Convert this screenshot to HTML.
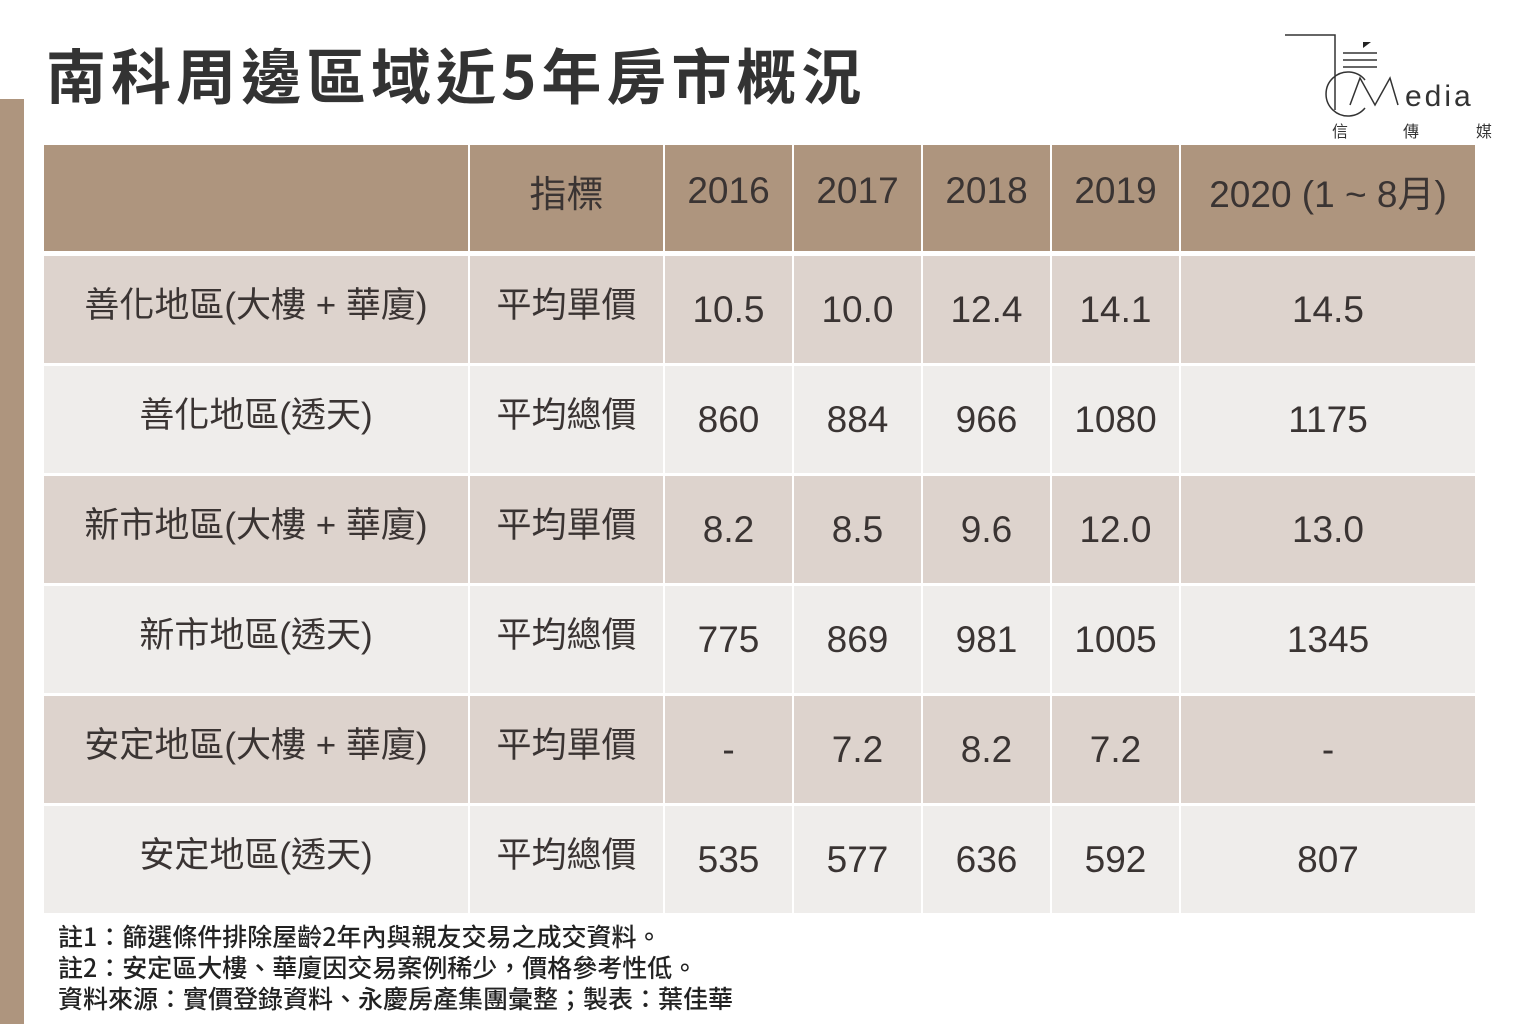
<!DOCTYPE html>
<html><head><meta charset="utf-8"><style>
body{margin:0;width:1536px;height:1024px;background:#fff;position:relative;overflow:hidden;font-family:"Liberation Sans","Noto Sans CJK TC",sans-serif;color:#3a3433}
.a{position:absolute}
.c{position:absolute;display:flex;align-items:center;justify-content:center;box-sizing:border-box}
.t{font-size:35px}
.n{font-size:37px}
</style></head><body>
<div class="a" style="left:0;top:99px;width:24px;height:925px;background:#ae957e"></div>
<div class="a" style="left:46px;top:30px;font-size:60px;font-weight:bold;color:#333;letter-spacing:5px;font-family:'Noto Sans CJK TC',sans-serif">南科周邊區域近5年房市概況</div>
<svg class="a" style="left:1280px;top:30px" width="215" height="115">
<path d="M5 5 H55 V80" fill="none" stroke="#333" stroke-width="1.5"/>
<path d="M63 23 H97 M63 30 H97 M63 37 H97" stroke="#333" stroke-width="1.5"/>
<path d="M83 12 l8 0 l-8 6z" fill="#222"/>
<path d="M85 50 A22 22 0 1 0 85 78" fill="none" stroke="#333" stroke-width="1.5"/>
<path d="M70 75 L80 48 L95 75 L110 48 L118 75" fill="none" stroke="#333" stroke-width="1.5"/>
<text x="125" y="76" font-size="30" fill="#333" font-family="Liberation Sans" letter-spacing="3">edia</text>
<text x="52" y="107" font-size="16" fill="#333" font-family="Noto Sans CJK TC">信</text>
<text x="123" y="107" font-size="16" fill="#333" font-family="Noto Sans CJK TC">傳</text>
<text x="196" y="107" font-size="16" fill="#333" font-family="Noto Sans CJK TC">媒</text>
</svg>
<div id="tb"></div>
<script>
var cols=[44,470,665,794,923,1052,1181,1477];
var h=["","指標","2016","2017","2018","2019","2020 (1 ~ 8月)"];
var rows=[["善化地區(大樓 + 華廈)","平均單價","10.5","10.0","12.4","14.1","14.5"],
["善化地區(透天)","平均總價","860","884","966","1080","1175"],
["新市地區(大樓 + 華廈)","平均單價","8.2","8.5","9.6","12.0","13.0"],
["新市地區(透天)","平均總價","775","869","981","1005","1345"],
["安定地區(大樓 + 華廈)","平均單價","-","7.2","8.2","7.2","-"],
["安定地區(透天)","平均總價","535","577","636","592","807"]];
var s="";
for(var i=0;i<7;i++){s+='<div class="c n" style="left:'+cols[i]+'px;top:145px;width:'+(cols[i+1]-cols[i]-2)+'px;height:106px;background:#ae957e;color:#3a3433;padding-bottom:14px">'+h[i]+'</div>';}
var tops=[256,366,476,586,696,806];
for(var r=0;r<6;r++){var bg=r%2==0?"#ddd3cd":"#efedeb";
for(var i=0;i<7;i++){var tx=i<2;s+='<div class="c '+(tx?'t':'n')+'" style="left:'+cols[i]+'px;top:'+tops[r]+'px;width:'+(cols[i+1]-cols[i]-2)+'px;height:107px;background:'+bg+';'+(tx?'padding-bottom:14px':'')+'">'+rows[r][i]+'</div>';}}
document.getElementById("tb").innerHTML=s;
</script>
<div class="a" style="left:58px;top:921px;font-size:25px;line-height:31px;color:#222;font-weight:500;font-family:'Noto Sans CJK TC',sans-serif">註1：篩選條件排除屋齡2年內與親友交易之成交資料。<br>註2：安定區大樓、華廈因交易案例稀少，價格參考性低。<br>資料來源：實價登錄資料、永慶房產集團彙整；製表：葉佳華</div>
</body></html>
